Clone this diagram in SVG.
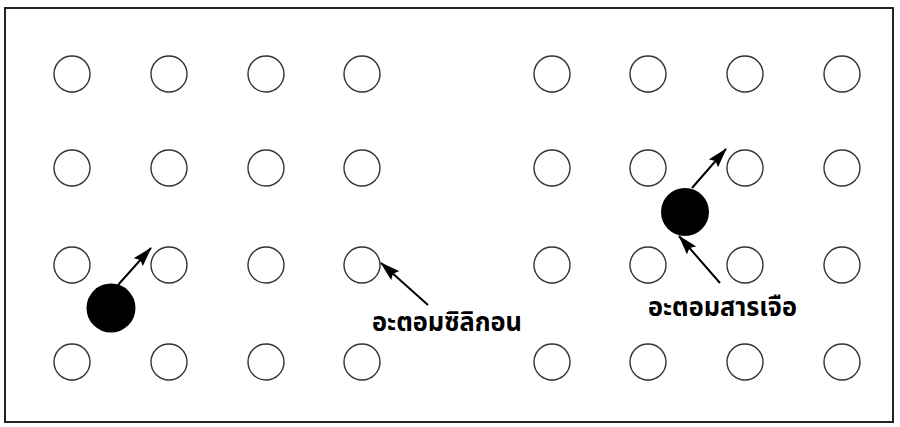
<svg xmlns="http://www.w3.org/2000/svg" width="900" height="427" viewBox="0 0 900 427">
<defs>
<style>
.atom{fill:#fff;stroke:#333;stroke-width:1.4}
.dop{fill:#000}
.conn line{stroke:#000;stroke-width:2}
.lbl{font-family:"Noto Sans Thai","Noto Sans","DejaVu Sans",sans-serif;font-size:27px;font-weight:bold;fill:#000}
</style>
<marker id="ah" viewBox="0 0 20 12" refX="19" refY="6" markerWidth="20" markerHeight="12" markerUnits="userSpaceOnUse" orient="auto"><path d="M0,0 L20,6 L0,12 L3,6 Z" fill="#000"/></marker>
</defs>
<rect width="900" height="427" fill="#fff"/>
<rect x="5" y="8" width="888" height="414" fill="none" stroke="#222" stroke-width="2"/>
<g id="si-lattice">
<circle class="atom" cx="72" cy="74" r="18"/><circle class="atom" cx="169" cy="74" r="18"/><circle class="atom" cx="266" cy="74" r="18"/><circle class="atom" cx="362" cy="74" r="18"/>
<circle class="atom" cx="72" cy="168" r="18"/><circle class="atom" cx="169" cy="168" r="18"/><circle class="atom" cx="266" cy="168" r="18"/><circle class="atom" cx="362" cy="168" r="18"/>
<circle class="atom" cx="72" cy="265" r="18"/><circle class="atom" cx="169" cy="265" r="18"/><circle class="atom" cx="266" cy="265" r="18"/><circle class="atom" cx="362" cy="265" r="18"/>
<circle class="atom" cx="72" cy="362" r="18"/><circle class="atom" cx="169" cy="362" r="18"/><circle class="atom" cx="266" cy="362" r="18"/><circle class="atom" cx="362" cy="362" r="18"/>
</g>
<g id="doped-lattice">
<circle class="atom" cx="552" cy="74" r="18"/><circle class="atom" cx="648" cy="74" r="18"/><circle class="atom" cx="745" cy="74" r="18"/><circle class="atom" cx="842" cy="74" r="18"/>
<circle class="atom" cx="552" cy="168" r="18"/><circle class="atom" cx="648" cy="168" r="18"/><circle class="atom" cx="745" cy="168" r="18"/><circle class="atom" cx="842" cy="168" r="18"/>
<circle class="atom" cx="552" cy="265" r="18"/><circle class="atom" cx="648" cy="265" r="18"/><circle class="atom" cx="745" cy="265" r="18"/><circle class="atom" cx="842" cy="265" r="18"/>
<circle class="atom" cx="552" cy="362" r="18"/><circle class="atom" cx="648" cy="362" r="18"/><circle class="atom" cx="745" cy="362" r="18"/><circle class="atom" cx="842" cy="362" r="18"/>
</g>
<g id="dopant-left"><circle class="dop" cx="111" cy="308" r="24.5"/></g>
<g id="dopant-right"><circle class="dop" cx="685" cy="212" r="24"/></g>
<g class="conn" id="connectors">
<line x1="118" y1="285" x2="151" y2="248" marker-end="url(#ah)"/>
<line x1="428" y1="305" x2="381" y2="263" marker-end="url(#ah)"/>
<line x1="692" y1="188" x2="726" y2="149" marker-end="url(#ah)"/>
<line x1="720" y1="283" x2="679" y2="236" marker-end="url(#ah)"/>
</g>
<g id="label-si"><text class="lbl" x="372" y="331" textLength="150" lengthAdjust="spacingAndGlyphs">อะตอมซิลิกอน</text></g>
<g id="label-dopant"><text class="lbl" x="648" y="316" textLength="149" lengthAdjust="spacingAndGlyphs">อะตอมสารเจือ</text></g>
</svg>
